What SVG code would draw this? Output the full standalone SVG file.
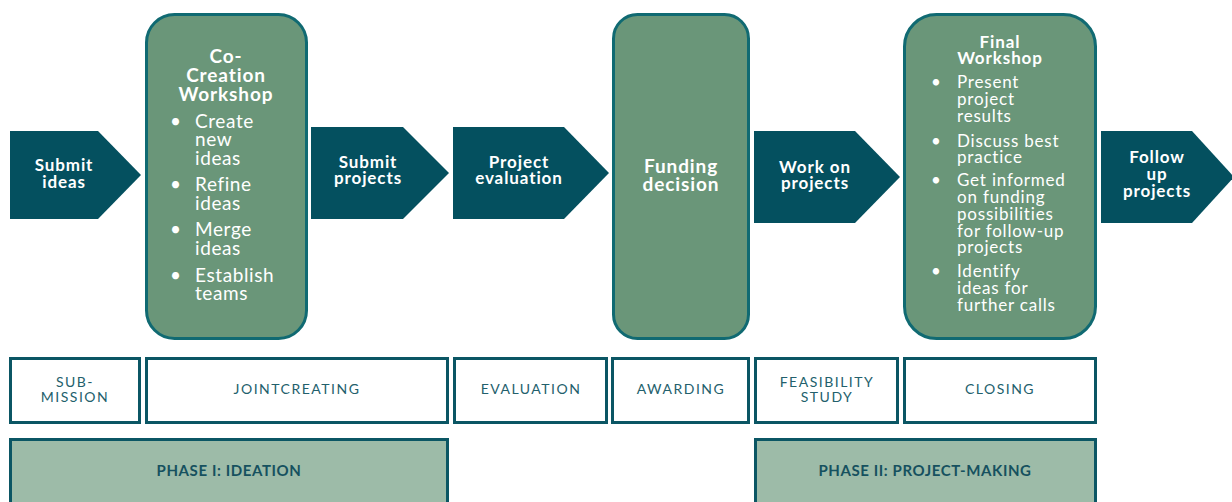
<svg xmlns="http://www.w3.org/2000/svg" width="1232" height="502" viewBox="0 0 1232 502">
<style>
.arrow{fill:#04505f;}
.card{fill:#6a9679;stroke:#106a72;stroke-width:3;}
.box{fill:#ffffff;stroke:#0b5664;stroke-width:3;}
.phase{fill:#9dbba8;stroke:#0b5664;stroke-width:3;}
.at{font-family:Lato,"Open Sans",sans-serif;font-weight:700;fill:#ffffff;text-anchor:middle;font-size:17px;letter-spacing:0.9px;}
.ct{font-family:Lato,"Open Sans",sans-serif;font-weight:700;fill:#ffffff;text-anchor:middle;font-size:19px;letter-spacing:0.9px;}
.bl{font-family:Lato,"Open Sans",sans-serif;font-weight:400;fill:#ffffff;font-size:19px;letter-spacing:0.6px;}
.bs{font-family:Lato,"Open Sans",sans-serif;font-weight:400;fill:#ffffff;font-size:17px;letter-spacing:0.8px;}
.lab{font-family:Lato,"Open Sans",sans-serif;font-weight:400;fill:#23606c;text-anchor:middle;font-size:14px;letter-spacing:1.5px;}
.ph{font-family:Lato,"Open Sans",sans-serif;font-weight:700;fill:#16515f;text-anchor:middle;font-size:15px;letter-spacing:0.6px;}
</style>
<rect width="1232" height="502" fill="#ffffff"/>
<g id="connectors"></g>

<g id="submit-ideas">
<path class="arrow" d="M10,131 H98 L141,175 L98,219 H10 Z"/>
<text class="at"><tspan x="64" y="171">Submit</tspan><tspan x="64" y="188">ideas</tspan></text>
</g>

<g id="co-creation-workshop">
<rect class="card" x="146.5" y="14.5" width="160" height="324" rx="28"/>
<text class="ct"><tspan x="226" y="63">Co-</tspan><tspan x="226" y="82">Creation</tspan><tspan x="226" y="101">Workshop</tspan></text>
<text class="bl"><tspan x="170" y="128">•</tspan><tspan x="195" y="128">Create</tspan><tspan x="195" y="146">new</tspan><tspan x="195" y="165">ideas</tspan></text>
<text class="bl"><tspan x="170" y="191">•</tspan><tspan x="195" y="191">Refine</tspan><tspan x="195" y="210">ideas</tspan></text>
<text class="bl"><tspan x="170" y="236">•</tspan><tspan x="195" y="236">Merge</tspan><tspan x="195" y="255">ideas</tspan></text>
<text class="bl"><tspan x="170" y="282">•</tspan><tspan x="195" y="282">Establish</tspan><tspan x="195" y="300">teams</tspan></text>
</g>

<g id="submit-projects">
<path class="arrow" d="M311,127 H403 L449,173 L403,219 H311 Z"/>
<text class="at"><tspan x="368" y="168">Submit</tspan><tspan x="368" y="184">projects</tspan></text>
</g>

<g id="project-evaluation">
<path class="arrow" d="M453,127 H564 L609,173 L564,219 H453 Z"/>
<text class="at"><tspan x="519" y="168">Project</tspan><tspan x="519" y="184">evaluation</tspan></text>
</g>

<g id="funding-decision">
<rect class="card" x="613.5" y="14.5" width="135" height="324" rx="24"/>
<text class="ct"><tspan x="681" y="173">Funding</tspan><tspan x="681" y="191">decision</tspan></text>
</g>

<g id="work-on-projects">
<path class="arrow" d="M754,131 H855 L900,177 L855,223 H754 Z"/>
<text class="at"><tspan x="815" y="173">Work on</tspan><tspan x="815" y="189">projects</tspan></text>
</g>

<g id="final-workshop">
<rect class="card" x="904.5" y="14.5" width="191" height="324" rx="32"/>
<text class="at"><tspan x="1000" y="48">Final</tspan><tspan x="1000" y="64">Workshop</tspan></text>
<text class="bs"><tspan x="931" y="88">•</tspan><tspan x="957" y="88">Present</tspan><tspan x="957" y="105">project</tspan><tspan x="957" y="122">results</tspan></text>
<text class="bs"><tspan x="931" y="147">•</tspan><tspan x="957" y="147">Discuss best</tspan><tspan x="957" y="163">practice</tspan></text>
<text class="bs"><tspan x="931" y="186">•</tspan><tspan x="957" y="186">Get informed</tspan><tspan x="957" y="203">on funding</tspan><tspan x="957" y="220">possibilities</tspan><tspan x="957" y="237">for follow-up</tspan><tspan x="957" y="253">projects</tspan></text>
<text class="bs"><tspan x="931" y="277">•</tspan><tspan x="957" y="277">Identify</tspan><tspan x="957" y="294">ideas for</tspan><tspan x="957" y="311">further calls</tspan></text>
</g>

<g id="follow-up-projects">
<path class="arrow" d="M1101,131 H1192 L1234,177 L1192,223 H1101 Z"/>
<text class="at"><tspan x="1157" y="163">Follow</tspan><tspan x="1157" y="180">up</tspan><tspan x="1157" y="197">projects</tspan></text>
</g>

<g id="stage-submission">
<rect class="box" x="10.5" y="358.5" width="129" height="64"/>
<text class="lab"><tspan x="75" y="387">SUB-</tspan><tspan x="75" y="402">MISSION</tspan></text>
</g>
<g id="stage-jointcreating">
<rect class="box" x="146.5" y="358.5" width="301" height="64"/>
<text class="lab" x="297" y="394">JOINTCREATING</text>
</g>
<g id="stage-evaluation">
<rect class="box" x="454.5" y="358.5" width="152" height="64"/>
<text class="lab" x="531" y="394">EVALUATION</text>
</g>
<g id="stage-awarding">
<rect class="box" x="612.5" y="358.5" width="136" height="64"/>
<text class="lab" x="681" y="394">AWARDING</text>
</g>
<g id="stage-feasibility">
<rect class="box" x="755.5" y="358.5" width="142" height="64"/>
<text class="lab"><tspan x="827" y="387">FEASIBILITY</tspan><tspan x="827" y="402">STUDY</tspan></text>
</g>
<g id="stage-closing">
<rect class="box" x="904.5" y="358.5" width="191" height="64"/>
<text class="lab" x="1000" y="394">CLOSING</text>
</g>

<g id="phase-1">
<rect class="phase" x="10.5" y="439.5" width="437" height="70"/>
<text class="ph" x="229" y="476">PHASE I: IDEATION</text>
</g>
<g id="phase-2">
<rect class="phase" x="755.5" y="439.5" width="340" height="70"/>
<text class="ph" x="925" y="476">PHASE II: PROJECT-MAKING</text>
</g>
</svg>
